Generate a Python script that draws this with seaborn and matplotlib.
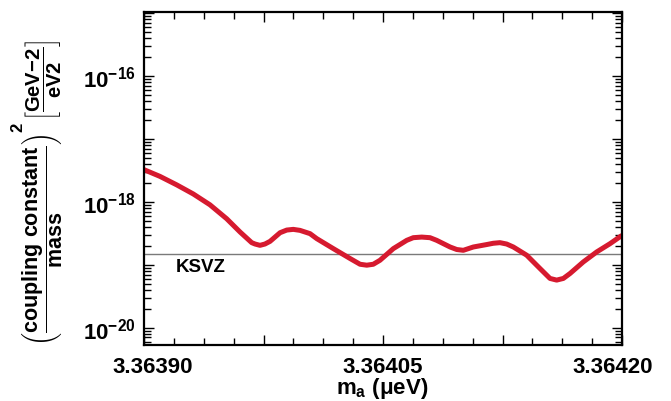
import numpy as np
import pandas as pd
import matplotlib
matplotlib.use("Agg")
import matplotlib.pyplot as plt
import matplotlib.ticker as mticker
import matplotlib.transforms as mtransforms
import seaborn as sns

# ---- data ----
mass_ueV = [3.3639000, 3.3639100, 3.3639205, 3.3639309, 3.3639414, 3.3639519,
            3.3639603, 3.3639676, 3.3639697, 3.3639728, 3.3639759, 3.3639791,
            3.3639854, 3.3639896, 3.3639937, 3.3639979, 3.3640042, 3.3640084,
            3.3640188, 3.3640293, 3.3640356, 3.3640398, 3.3640439, 3.3640481,
            3.3640565, 3.3640649, 3.3640690, 3.3640743, 3.3640795, 3.3640837,
            3.3640921, 3.3640963, 3.3641004, 3.3641067, 3.3641151, 3.3641192,
            3.3641234, 3.3641276, 3.3641318, 3.3641402, 3.3641485, 3.3641548,
            3.3641590, 3.3641632, 3.3641674, 3.3641757, 3.3641841, 3.3641925,
            3.3642000]
coupling_limit = [3.26e-18, 2.55e-18, 1.87e-18, 1.34e-18, 9.0e-19, 5.40e-19,
                  3.32e-19, 2.25e-19, 2.14e-19, 2.04e-19, 2.14e-19, 2.36e-19,
                  3.24e-19, 3.57e-19, 3.66e-19, 3.53e-19, 3.13e-19, 2.61e-19,
                  1.81e-19, 1.26e-19, 1.02e-19, 9.86e-20, 1.02e-19, 1.18e-19,
                  1.81e-19, 2.45e-19, 2.70e-19, 2.76e-19, 2.70e-19, 2.45e-19,
                  1.92e-19, 1.75e-19, 1.70e-19, 1.92e-19, 2.10e-19, 2.20e-19,
                  2.25e-19, 2.14e-19, 1.92e-19, 1.42e-19, 8.74e-20, 6.07e-20,
                  5.71e-20, 6.07e-20, 7.28e-20, 1.11e-19, 1.60e-19, 2.17e-19,
                  2.94e-19]
ksvz_level = 1.5e-19
ksvz_label = "KSVZ"
x_major_ticks = [3.36390, 3.363975, 3.36405, 3.364125, 3.36420]
x_tick_labels = ["3.36390", "", "3.36405", "", "3.36420"]
y_major_ticks = [1e-20, 1e-19, 1e-18, 1e-17, 1e-16, 1e-15]
y_tick_labels = [r"$10^{-20}$", "", r"$10^{-18}$", "", r"$10^{-16}$", ""]
x_label = r"$\mathregular{m_a\ (\mu eV)}$"
y_label_main = r"$\left(\dfrac{coupling\ constant}{mass}\right)$"
y_label_power = "2"
y_label_unit = r"$\left[\dfrac{GeV{-2}}{eV2}\right]$"

df = pd.DataFrame({"mass": mass_ueV, "limit": coupling_limit})

sns.set_theme(style="ticks")
plt.rcParams["font.family"] = ["Liberation Sans", "DejaVu Sans"]
plt.rcParams["font.weight"] = "bold"
plt.rcParams["text.color"] = "black"
plt.rcParams["axes.labelcolor"] = "black"
plt.rcParams["xtick.color"] = "black"
plt.rcParams["ytick.color"] = "black"
plt.rcParams["mathtext.fontset"] = "custom"
plt.rcParams["mathtext.rm"] = "Liberation Sans:bold"
plt.rcParams["mathtext.it"] = "Liberation Sans:bold"
plt.rcParams["mathtext.bf"] = "Liberation Sans:bold"
plt.rcParams["mathtext.sf"] = "Liberation Sans:bold"
plt.rcParams["mathtext.default"] = "bf"

W, H = 671, 402
fig = plt.figure(figsize=(W / 100, H / 100), dpi=100)
ax = fig.add_axes([144 / W, 1 - 346 / H, (622 - 144) / W, (346 - 13) / H])

sns.lineplot(data=df, x="mass", y="limit", ax=ax, color="#d61a2f",
             linewidth=3.6, solid_capstyle="butt", solid_joinstyle="round")
ax.axhline(ksvz_level, color="#7a7a7a", linewidth=1.0, zorder=1)
ax.text(3.363920, 9.3e-20, ksvz_label, fontsize=13.5, fontweight="bold",
        ha="left", va="center", color="black")

ax.set_yscale("log")
ax.set_xlim(3.36390, 3.36420)
ax.set_ylim(5.3e-21, 1.05e-15)

# x ticks
ax.xaxis.set_major_locator(mticker.FixedLocator(x_major_ticks))
ax.xaxis.set_minor_locator(mticker.MultipleLocator(1.875e-5))
ax.set_xticklabels(x_tick_labels)

# y ticks
ax.yaxis.set_major_locator(mticker.FixedLocator(y_major_ticks))
ax.yaxis.set_minor_locator(mticker.LogLocator(base=10, subs=np.arange(2, 10), numticks=50))
ax.yaxis.set_minor_formatter(mticker.NullFormatter())
ax.set_yticklabels(y_tick_labels)

ax.tick_params(which="both", direction="in", top=True, right=True,
               bottom=True, left=True, width=1.0, color="black")
ax.tick_params(which="major", length=7.5, labelsize=16, pad=6)
ax.tick_params(axis="x", which="major", pad=8)
ax.tick_params(which="minor", length=5)
for s in ax.spines.values():
    s.set_linewidth(1.6)
    s.set_color("black")

# shift end x labels inward like the reference
labs = ax.get_xticklabels()
labs[0].set_transform(labs[0].get_transform() +
                      mtransforms.ScaledTranslation(9 / 100, 0, fig.dpi_scale_trans))
labs[-1].set_transform(labs[-1].get_transform() +
                       mtransforms.ScaledTranslation(-9 / 100, 0, fig.dpi_scale_trans))
for t in ax.get_xticklabels() + ax.get_yticklabels():
    t.set_fontweight("bold")

ax.set_xlabel("")
ax.set_ylabel("")
fig.text(382 / W, 1 - 389 / H, x_label, fontsize=16, ha="center", va="center")
fig.text(42 / W, 1 - 346 / H, y_label_main, fontsize=15.5, rotation=90,
         ha="center", va="bottom")
fig.text(18 / W, 1 - 127 / H, y_label_power, fontsize=12, fontweight="bold",
         rotation=90, ha="center", va="center")
fig.text(43 / W, 1 - 40 / H, y_label_unit, fontsize=14.5, rotation=90,
         ha="center", va="top")

fig.savefig("out.png", dpi=100)
